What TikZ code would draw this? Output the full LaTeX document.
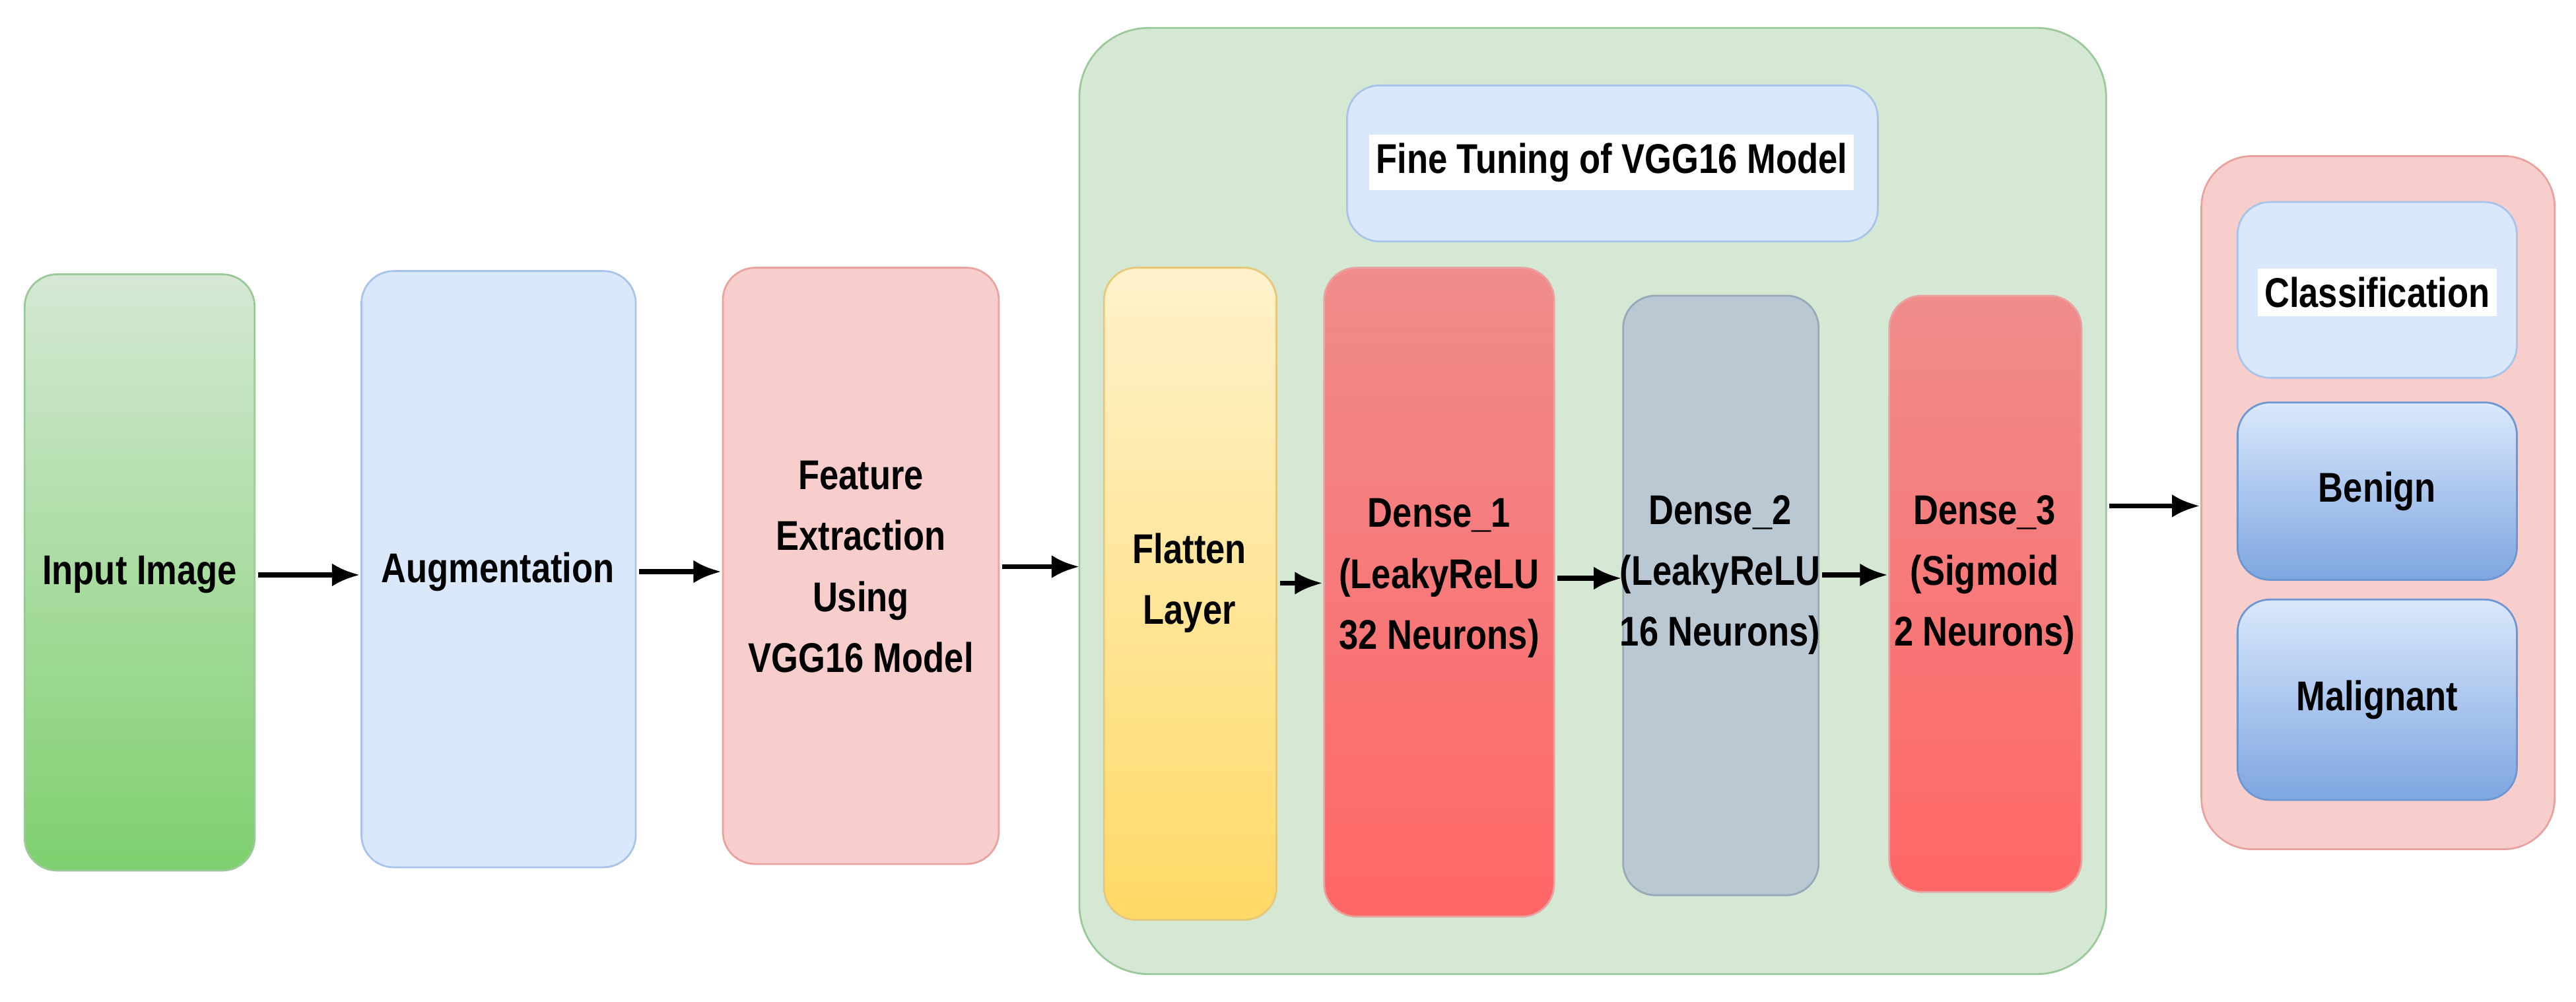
\documentclass[tikz,border=0pt]{standalone}
\usepackage{fontspec}
\setmainfont{Liberation Sans}
\usetikzlibrary{arrows.meta}
\begin{document}
\begin{tikzpicture}[x=0.025cm,y=-0.025cm,
 box/.style={rounded corners=14pt,draw=#1,line width=0.8pt},
 txt/.style={font=\bfseries\fontsize{15}{22}\selectfont,align=center,yscale=1.2},
 arr/.style={-{Latex[length=12pt,width=10pt]},line width=2.2pt}]
\useasboundingbox (0,0) rectangle (1568,610);
\definecolor{lb}{HTML}{DAE8FC}\definecolor{lbd}{HTML}{A9C4EB}
\definecolor{pk}{HTML}{F8CECC}\definecolor{pkd}{HTML}{E8A3A0}
\definecolor{gr}{HTML}{D5E8D4}\definecolor{grd}{HTML}{9BC99A}
\definecolor{grb}{HTML}{7ED06E}
\definecolor{yl}{HTML}{FFF2CC}\definecolor{ylb}{HTML}{FFD966}\definecolor{yld}{HTML}{E6C878}
\definecolor{rdt}{HTML}{F08C8C}\definecolor{rdb}{HTML}{FF6666}
\definecolor{gy}{HTML}{BAC8D3}\definecolor{gyd}{HTML}{96AAB9}
\definecolor{blb}{HTML}{7EA6E0}\definecolor{bld}{HTML}{6E96D2}
% containers
\path[box=grd,fill=gr,rounded corners=30pt] (657,17) rectangle (1282,593);
\path[box=lbd,fill=lb] (820,52) rectangle (1143,147);
\node[txt,fill=white,inner sep=3pt] (ftt) at (981,99) {Fine Tuning of VGG16 Model};
\path[box=pkd,fill=pk,rounded corners=22pt] (1340,95) rectangle (1555,517);
% left boxes
\path[box=grd,top color=gr,bottom color=grb] (15,167) rectangle (155,530);
\node[txt] (in) at (85,350) {Input Image};
\path[box=lbd,fill=lb] (220,165) rectangle (387,528);
\node[txt] (aug) at (303,348) {Augmentation};
\path[box=pkd,fill=pk] (440,163) rectangle (608,526);
\node[txt] (fe) at (524,345) {Feature\\Extraction\\Using\\VGG16 Model};
% inner
\path[box=yld,top color=yl,bottom color=ylb] (672,163) rectangle (777,560);
\node[txt] (fl) at (724,355) {Flatten\\Layer};
\path[box=pkd,top color=rdt,bottom color=rdb] (806,163) rectangle (946,558);
\node[txt] (d1) at (876,352) {Dense\_1\\(LeakyReLU\\32 Neurons)};
\path[box=gyd,fill=gy] (988,180) rectangle (1107,545);
\node[txt] (d2) at (1047,350) {Dense\_2\\(LeakyReLU\\16 Neurons)};
\path[box=pkd,top color=rdt,bottom color=rdb] (1150,180) rectangle (1267,543);
\node[txt] (d3) at (1208,350) {Dense\_3\\(Sigmoid\\2 Neurons)};
% right
\path[box=lbd,fill=lb] (1362,123) rectangle (1532,230);
\node[txt,fill=white,inner sep=3pt] (cl) at (1447,178) {Classification};
\path[box=bld,top color=lb,bottom color=blb] (1362,245) rectangle (1532,353);
\node[txt] (be) at (1447,299) {Benign};
\path[box=bld,top color=lb,bottom color=blb] (1362,365) rectangle (1532,487);
\node[txt] (ma) at (1447,426) {Malignant};
% arrows
\coordinate (a1) at (157,350); \coordinate (b1) at (219,350);
\coordinate (a2) at (389,348); \coordinate (b2) at (439,348);
\coordinate (a3) at (610,345); \coordinate (b3) at (657,345);
\coordinate (a4) at (779,355); \coordinate (b4) at (805,355);
\coordinate (a5) at (948,352); \coordinate (b5) at (987,352);
\coordinate (a6) at (1109,350); \coordinate (b6) at (1149,350);
\coordinate (a7) at (1284,308); \coordinate (b7) at (1339,308);
\foreach \i in {1,...,7} \draw[arr] (a\i) -- (b\i);
\end{tikzpicture}
\end{document}
